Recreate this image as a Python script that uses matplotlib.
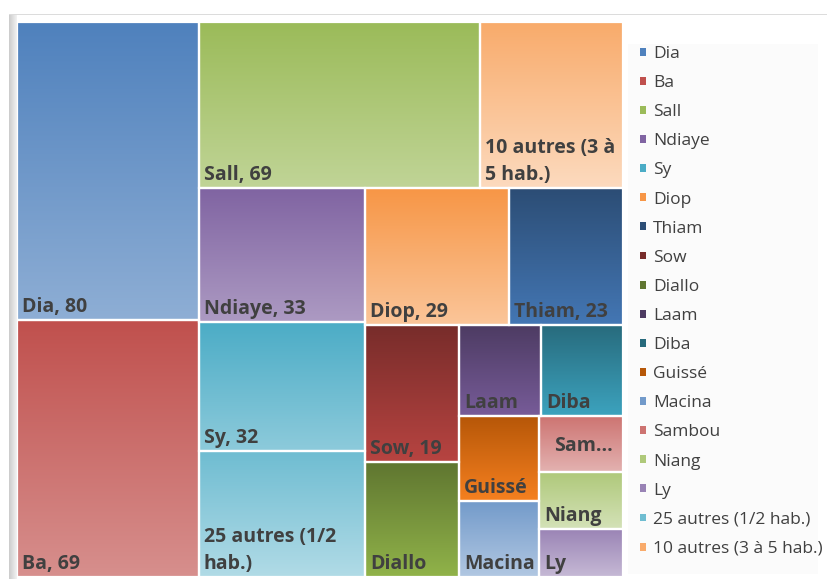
import matplotlib
matplotlib.use("Agg")
import matplotlib.pyplot as plt
import numpy as np
import colorsys
from matplotlib.colors import to_rgb
from matplotlib.patches import Rectangle, Patch

# ---------------- data ----------------
names = ["Dia", "Ba", "Sall", "Ndiaye", "Sy", "Diop", "Thiam", "Sow", "Diallo",
         "Laam", "Diba", "Guissé", "Macina", "Sambou", "Niang", "Ly",
         "25 autres (1/2 hab.)", "10 autres (3 à 5 hab.)"]
values = [80, 69, 69, 33, 32, 29, 23, 19, 16, 11, 11, 10, 9, 7, 7, 6, 31, 35]
cell_labels = ["Dia, 80", "Ba, 69", "Sall, 69", "Ndiaye, 33", "Sy, 32", "Diop, 29",
               "Thiam, 23", "Sow, 19", "Diallo", "Laam", "Diba", "Guissé", "Macina",
               "Sam...", "Niang", "Ly", "25 autres (1/2\nhab.)", "10 autres (3 à\n5 hab.)"]

# Office accent colours, cycled: base, darker (lumMod 60), lighter (lumMod 80 + lumOff 20)
accents = ["#4F81BD", "#C0504D", "#9BBB59", "#8064A2", "#4BACC6", "#F79646"]

# strip structure of the treemap (applied to values sorted in descending order)
groups = [("col", 2), ("row", 2), ("col", 3), ("row", 2), ("col", 2), ("row", 2), ("col", 2), ("col", 3)]

plt.rcParams['font.family'] = ['Open Sans', 'DejaVu Sans']


def hls_mod(rgb, fn):
    h, l, s = colorsys.rgb_to_hls(*rgb)
    return colorsys.hls_to_rgb(h, fn(l), s)


def series_color(i):
    base = to_rgb(accents[i % 6])
    cyc = i // 6
    if cyc == 0:
        return base
    if cyc == 1:
        return hls_mod(base, lambda l: l * 0.6)
    return hls_mod(base, lambda l: l * 0.8 + 0.2)


colors = [series_color(i) for i in range(len(names))]

FW, FH = 828, 579
fig = plt.figure(figsize=(FW / 100, FH / 100), dpi=100)
fig.patch.set_facecolor("white")

# background decorations (frame)
bg = fig.add_axes([0, 0, 1, 1], zorder=0)
band = np.linspace(0, 1, 32)[None, :, None]
left_grad = (np.array([0.80, 0.80, 0.80]) * (1 - band) + np.array([0.95, 0.95, 0.95]) * band)
bg.imshow(left_grad, extent=(9, 17, FH, 14), aspect="auto", zorder=1)
bg.add_patch(Rectangle((9, 14), FW - 9, 1.2, facecolor="#dcdcdc", edgecolor="none", zorder=1))
bg.add_patch(Rectangle((628, 44), 190, 530, facecolor="#fbfbfb", edgecolor="none", zorder=0.5))
bg.set_xlim(0, FW)
bg.set_ylim(FH, 0)
bg.axis("off")

# treemap axes
AX_L, AX_T, AX_W, AX_H = 17, 22, 605.7, 555
ax = fig.add_axes([AX_L / FW, 1 - (AX_T + AX_H) / FH, AX_W / FW, AX_H / FH], zorder=2)
ax.axis("off")
W, H = AX_W, AX_H

order = sorted(range(len(values)), key=lambda i: -values[i])
scale = W * H / sum(values)

rects = {}
x, y, w, h = 0.0, 0.0, W, H
pos = 0
for orient, n in groups:
    idx = order[pos:pos + n]
    pos += n
    s = sum(values[i] for i in idx) * scale
    if orient == "col":
        cw = s / h
        yy = y
        for i in idx:
            ih = values[i] * scale / cw
            rects[i] = (x, yy, cw, ih)
            yy += ih
        x += cw
        w -= cw
    else:
        rh = s / w
        xx = x
        for i in idx:
            iw = values[i] * scale / rh
            rects[i] = (xx, y, iw, rh)
            xx += iw
        y += rh
        h -= rh

t = np.linspace(0, 1, 128)
for i, (rx, ry, rw, rh) in rects.items():
    top = np.array(colors[i])
    bot = np.array(hls_mod(colors[i], lambda l: min(l + 0.17, 0.95)))
    grad = top[None, :] * (1 - t[:, None]) + bot[None, :] * t[:, None]
    ax.imshow(grad[:, None, :], extent=(rx, rx + rw, ry + rh, ry), aspect="auto",
              interpolation="bilinear", zorder=1)
    ax.add_patch(Rectangle((rx, ry), rw, rh, facecolor="none", edgecolor="white",
                           linewidth=1.6, zorder=3))
    lab = cell_labels[i]
    if lab.endswith("..."):
        ax.text(rx + rw / 2 + 3, ry + rh / 2 + 2, lab, ha="center", va="center",
                fontsize=14, fontweight="bold", color="#404040", zorder=4)
    else:
        ax.text(rx + 5, ry + rh - 3, lab, ha="left", va="bottom", fontsize=14,
                fontweight="bold", color="#404040", zorder=4, linespacing=1.45)

ax.set_xlim(0, W)
ax.set_ylim(H, 0)

handles = [Patch(facecolor=colors[i], edgecolor="none") for i in range(len(names))]
fig.legend(handles, names, loc="upper left", bbox_to_anchor=(640 / FW, 1 - 46 / FH),
           frameon=False, fontsize=12.5, labelcolor="#404040", handlelength=0.32,
           handleheight=0.32, handletextpad=0.45, labelspacing=0.755, borderaxespad=0,
           borderpad=0)

fig.savefig("out.png", dpi=100, facecolor="white")
